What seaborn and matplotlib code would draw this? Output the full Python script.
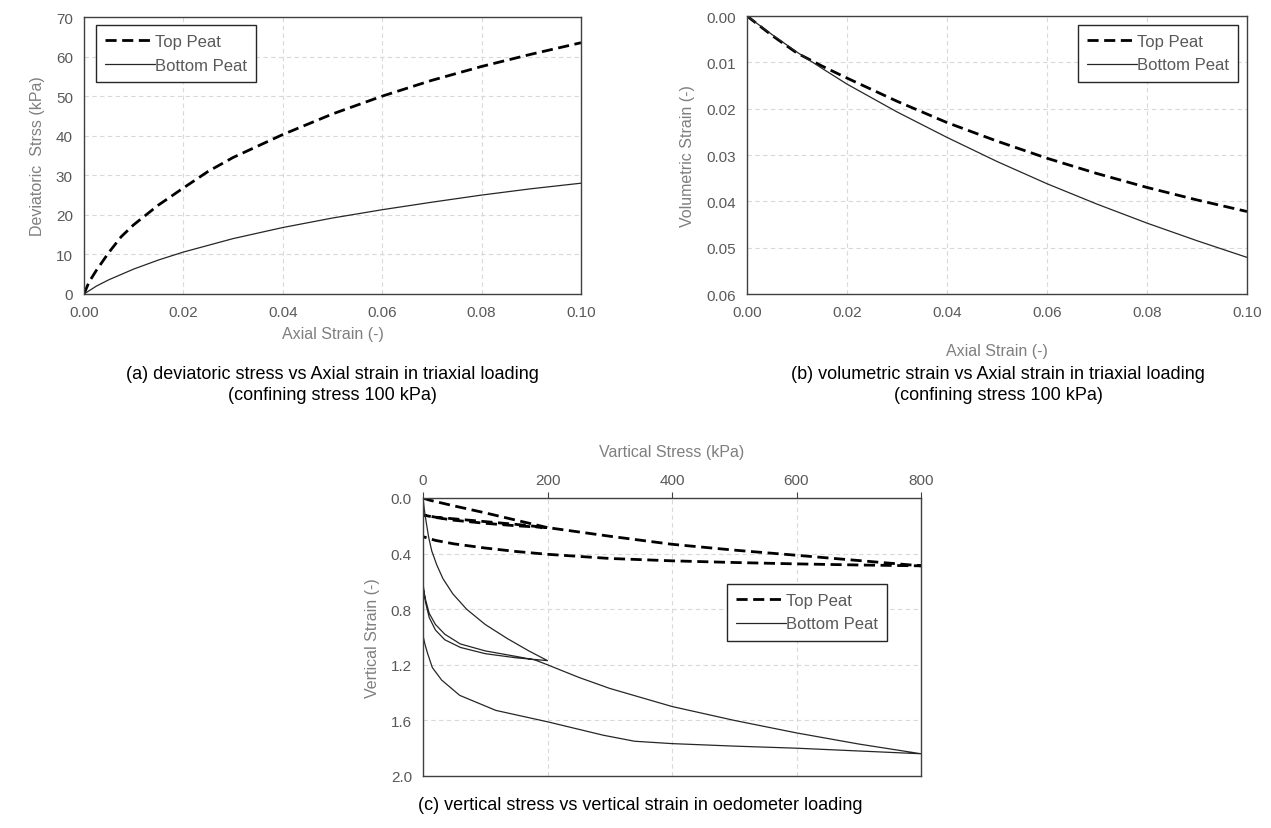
import numpy as np
import pandas as pd
import matplotlib
matplotlib.use("Agg")
import matplotlib.pyplot as plt
import seaborn as sns
from matplotlib.lines import Line2D

# ---------------- data ----------------
# (a) deviatoric stress vs axial strain
a_top_strain = [0, 0.001, 0.0025, 0.005, 0.0075, 0.01, 0.015, 0.02, 0.025, 0.03, 0.04, 0.05, 0.06, 0.07, 0.08, 0.09, 0.10]
a_top_q      = [0, 3.0, 6.0, 10.5, 14.5, 17.5, 22.5, 26.8, 31.0, 34.5, 40.3, 45.5, 50.0, 54.0, 57.5, 60.6, 63.5]
a_bot_strain = [0, 0.0025, 0.005, 0.01, 0.015, 0.02, 0.03, 0.04, 0.05, 0.06, 0.07, 0.08, 0.09, 0.10]
a_bot_q      = [0, 2.0, 3.6, 6.3, 8.6, 10.6, 14.0, 16.8, 19.2, 21.3, 23.2, 25.0, 26.6, 28.0]

# (b) volumetric strain vs axial strain
b_strain     = [0, 0.005, 0.01, 0.015, 0.02, 0.03, 0.04, 0.05, 0.06, 0.07, 0.08, 0.09, 0.10]
b_top_vol    = [0, 0.0042, 0.0080, 0.0108, 0.0134, 0.0184, 0.0230, 0.0270, 0.0307, 0.0340, 0.0370, 0.0397, 0.0422]
b_bot_vol    = [0, 0.0040, 0.0078, 0.0113, 0.0147, 0.0207, 0.0262, 0.0314, 0.0362, 0.0406, 0.0447, 0.0485, 0.0521]

# (c) oedometer: load 0-200, unload, reload, load to 800, unload
c_top_stress = [0, 10, 50, 100, 150, 200,
                150, 100, 50, 20, 0,
                20, 50, 100, 150, 200,
                300, 400, 500, 600, 700, 800,
                700, 600, 500, 400, 300, 200, 150, 100, 50, 20, 5, 0]
c_top_strain = [0, 0.015, 0.057, 0.107, 0.16, 0.213,
                0.19, 0.17, 0.15, 0.138, 0.122,
                0.14, 0.16, 0.182, 0.2, 0.213,
                0.275, 0.333, 0.375, 0.412, 0.45, 0.488,
                0.482, 0.474, 0.464, 0.452, 0.435, 0.405, 0.385, 0.36, 0.33, 0.305, 0.285, 0.278]
c_bot_stress = [0, 2, 5, 9, 14, 22, 32, 48, 70, 100, 135, 170, 200,
                150, 100, 60, 35, 20, 10, 4, 1, 0,
                1, 4, 10, 20, 35, 60, 100, 150, 180, 200,
                250, 300, 400, 500, 600, 700, 800,
                700, 600, 500, 400, 340, 290, 200, 117, 59, 30, 15, 7.5, 3, 0]
c_bot_strain = [0, 0.08, 0.17, 0.28, 0.38, 0.48, 0.58, 0.69, 0.80, 0.91, 1.01, 1.10, 1.17,
                1.15, 1.12, 1.075, 1.02, 0.95, 0.86, 0.75, 0.66, 0.60,
                0.66, 0.73, 0.83, 0.91, 0.98, 1.05, 1.10, 1.14, 1.165, 1.20,
                1.29, 1.37, 1.50, 1.60, 1.69, 1.77, 1.84,
                1.82, 1.80, 1.785, 1.767, 1.75, 1.707, 1.61, 1.528, 1.42, 1.31, 1.22, 1.12, 1.05, 0.99]

series_names = ["Top Peat", "Bottom Peat"]

a_xticks = [0.00, 0.02, 0.04, 0.06, 0.08, 0.10]
a_xlabels = ["0.00", "0.02", "0.04", "0.06", "0.08", "0.10"]
a_yticks = [0, 10, 20, 30, 40, 50, 60, 70]
a_ylabels = ["0", "10", "20", "30", "40", "50", "60", "70"]
b_yticks = [0.00, 0.01, 0.02, 0.03, 0.04, 0.05, 0.06]
b_ylabels = ["0.00", "0.01", "0.02", "0.03", "0.04", "0.05", "0.06"]
c_xticks = [0, 200, 400, 600, 800]
c_xlabels = ["0", "200", "400", "600", "800"]
c_yticks = [0.0, 0.4, 0.8, 1.2, 1.6, 2.0]
c_ylabels = ["0.0", "0.4", "0.8", "1.2", "1.6", "2.0"]

# ---------------- style ----------------
sns.set_theme(style="white")
FONT = ["Liberation Sans", "DejaVu Sans"]
plt.rcParams["font.family"] = FONT

TICK_C = "#595959"
LAB_C = "#7f7f7f"
SPINE_C = "#404040"
TICK_FS = 11
LAB_FS = 11.5
LEG_FS = 12
CAP_FS = 13

W, H = 1271, 829
fig = plt.figure(figsize=(W / 100, H / 100), dpi=100)
fig.patch.set_facecolor("white")


def add_ax(l, t, r, b):
    return fig.add_axes([l / W, 1 - b / H, (r - l) / W, (b - t) / H])


TOP_KW = dict(color="black", linewidth=2.0, linestyle=(0, (4, 2)))
BOT_KW = dict(color="#262626", linewidth=0.9)


def draw(ax, x, y, kw):
    sns.lineplot(x=x, y=y, ax=ax, sort=False, estimator=None, errorbar=None, **kw)


def style(ax, xt, xl, yt, yl):
    ax.set_facecolor("white")
    for s in ax.spines.values():
        s.set_visible(True)
        s.set_color(SPINE_C)
        s.set_linewidth(1.0)
    ax.set_xticks(xt)
    ax.set_xticklabels(xl, fontsize=TICK_FS, color=TICK_C, family=FONT)
    ax.set_yticks(yt)
    ax.set_yticklabels(yl, fontsize=TICK_FS, color=TICK_C, family=FONT)
    ax.grid(True, color="#d9d9d9", linestyle=(0, (4, 3)), linewidth=0.8)
    ax.set_axisbelow(True)
    ax.tick_params(direction="out", length=4, width=0.8, color=SPINE_C, pad=4)


def legend(ax, loc, anchor):
    handles = [Line2D([], [], **TOP_KW), Line2D([], [], **BOT_KW)]
    leg = ax.legend(handles, series_names, loc=loc, bbox_to_anchor=anchor,
                    frameon=True, fancybox=False, framealpha=1, edgecolor="#262626",
                    handlelength=3.0, handletextpad=0.0, borderpad=0.55,
                    labelspacing=0.5, borderaxespad=0,
                    prop={"family": FONT, "size": LEG_FS})
    leg.get_frame().set_linewidth(1.0)
    for t in leg.get_texts():
        t.set_color(TICK_C)
    return leg


# ---------------- panel (a) ----------------
ax_a = add_ax(84, 18, 581, 295)
draw(ax_a, a_top_strain, a_top_q, TOP_KW)
draw(ax_a, a_bot_strain, a_bot_q, BOT_KW)
ax_a.set_xlim(0, 0.10)
ax_a.set_ylim(0, 70)
style(ax_a, a_xticks, a_xlabels, a_yticks, a_ylabels)
ax_a.set_xlabel("Axial Strain (-)", fontsize=LAB_FS, color=LAB_C, labelpad=5)
ax_a.set_ylabel("Deviatoric  Strss (kPa)", fontsize=LAB_FS, color=LAB_C, labelpad=8)
legend(ax_a, "upper left", (0.024, 0.971))

# ---------------- panel (b) ----------------
ax_b = add_ax(747, 17, 1247, 295)
draw(ax_b, b_strain, b_top_vol, TOP_KW)
draw(ax_b, b_strain, b_bot_vol, BOT_KW)
ax_b.set_xlim(0, 0.10)
ax_b.set_ylim(0.06, 0.0)
style(ax_b, a_xticks, a_xlabels, b_yticks, b_ylabels)
ax_b.set_xlabel("Axial Strain (-)", fontsize=LAB_FS, color=LAB_C, labelpad=17)
ax_b.set_ylabel("Volumetric Strain (-)", fontsize=LAB_FS, color=LAB_C, labelpad=8)
legend(ax_b, "upper right", (0.982, 0.968))

# ---------------- panel (c) ----------------
ax_c = add_ax(423, 499, 921, 777)
draw(ax_c, c_top_stress, c_top_strain, TOP_KW)
draw(ax_c, c_bot_stress, c_bot_strain, BOT_KW)
ax_c.set_xlim(0, 800)
ax_c.set_ylim(2.0, 0.0)
style(ax_c, c_xticks, c_xlabels, c_yticks, c_ylabels)
ax_c.xaxis.set_ticks_position("top")
ax_c.xaxis.set_label_position("top")
ax_c.set_xlabel("Vartical Stress (kPa)", fontsize=LAB_FS, color=LAB_C, labelpad=12)
ax_c.set_ylabel("Vertical Strain (-)", fontsize=LAB_FS, color=LAB_C, labelpad=8)
legend(ax_c, "upper left", (0.61, 0.691))

# ---------------- captions ----------------
def cap(x, y, s):
    fig.text(x / W, 1 - y / H, s, ha="center", va="center", fontsize=CAP_FS, color="black", family=FONT)

cap(332, 375, "(a) deviatoric stress vs Axial strain in triaxial loading")
cap(332, 396, "(confining stress 100 kPa)")
cap(998, 375, "(b) volumetric strain vs Axial strain in triaxial loading")
cap(998, 396, "(confining stress 100 kPa)")
cap(640, 806, "(c) vertical stress vs vertical strain in oedometer loading")

fig.savefig("out.png", dpi=100, facecolor="white")
